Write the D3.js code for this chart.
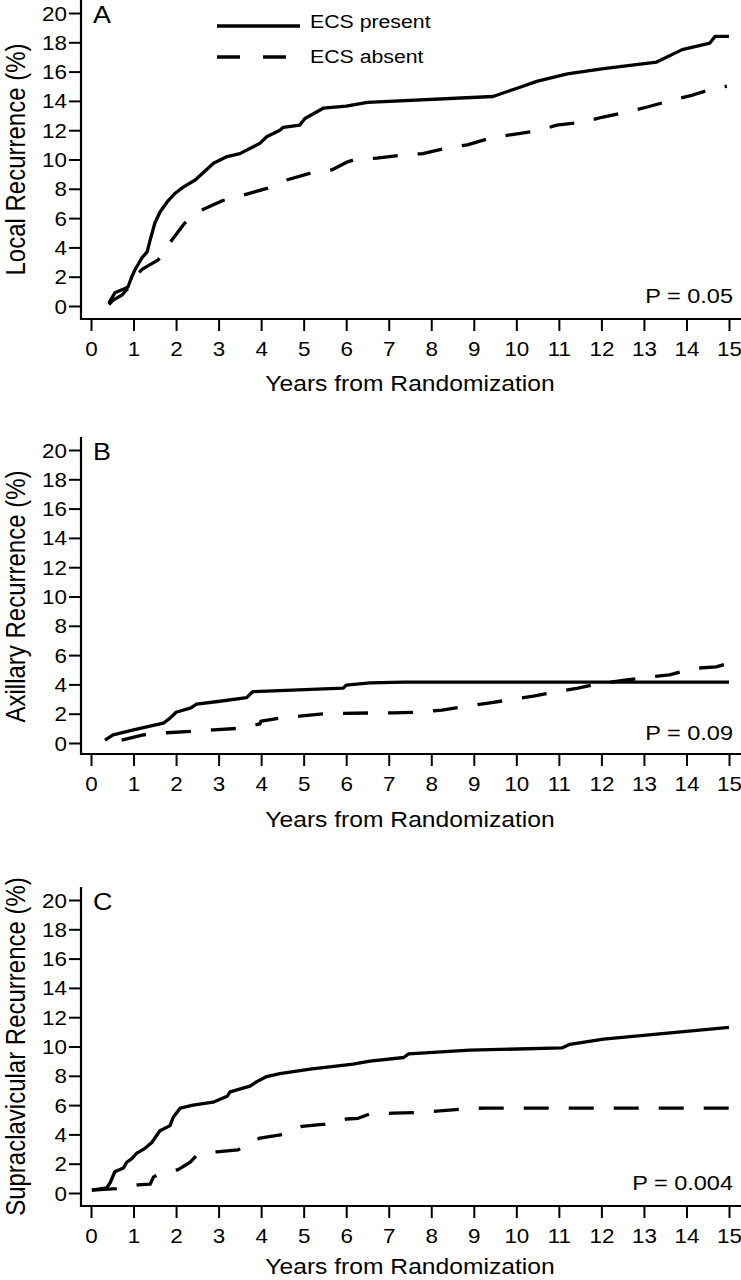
<!DOCTYPE html>
<html><head><meta charset="utf-8">
<script src="https://cdn.jsdelivr.net/npm/d3@7"></script>
<style>
body{margin:0;background:#fff}
svg{display:block}
text{font-family:"Liberation Sans",Arial,Helvetica,sans-serif;fill:#000}
</style>
</head><body>
<svg id="chart" width="741" height="1280"></svg>
<script>
// ---------- data ----------
const xTickValues = [0,1,2,3,4,5,6,7,8,9,10,11,12,13,14,15];
const yTickValues = [0,2,4,6,8,10,12,14,16,18,20];
const seriesNames = ["ECS present","ECS absent"];
const panelLetters = ["A","B","C"];
const yTitles = ["Local Recurrence (%)","Axillary Recurrence (%)","Supraclavicular Recurrence (%)"];
const pValues = ["P = 0.05","P = 0.09","P = 0.004"];
const xTitle = "Years from Randomization";

// Panel A – local recurrence
const localPresentT = [0.42,0.56,0.8,0.87,0.96,1.03,1.1,1.2,1.32,1.39,1.5,1.62,1.79,1.98,2.16,2.45,2.88,3.2,3.5,3.97,4.13,4.44,4.52,4.91,5.03,5.46,6.0,6.5,9.45,10.0,10.5,11.2,12.05,13.3,13.9,14.55,14.67,15.0];
const localPresentV = [0.2,0.9,1.2,1.3,2.0,2.45,2.8,3.3,3.7,4.5,5.65,6.4,7.1,7.7,8.1,8.6,9.75,10.2,10.4,11.1,11.55,12.0,12.2,12.35,12.8,13.5,13.65,13.9,14.3,14.85,15.35,15.85,16.2,16.65,17.5,17.95,18.4,18.4];
const localAbsentT = [0.42,0.52,0.73,0.87,1.0,1.1,1.2,1.58,1.75,1.86,2.2,2.4,2.6,3.1,3.62,4.16,4.6,5.2,5.67,6.0,6.2,6.72,7.3,7.8,8.4,8.85,9.43,9.9,10.5,10.95,11.55,12.04,12.6,13.1,13.66,14.15,14.7,14.95];
const localAbsentV = [0.1,0.4,0.75,1.2,1.9,2.2,2.5,3.15,3.8,4.35,5.65,6.2,6.55,7.2,7.6,8.05,8.6,9.1,9.3,9.8,10.0,10.1,10.3,10.4,10.8,11.0,11.5,11.7,11.95,12.35,12.55,12.9,13.25,13.6,14.05,14.4,14.9,15.0];

// Panel B – axillary recurrence
const axPresentT = [0.33,0.52,1.0,1.7,1.86,2.0,2.35,2.48,3.03,3.66,3.8,5.93,6.0,6.56,7.35,15];
const axPresentV = [0.2,0.55,0.9,1.35,1.7,2.1,2.4,2.65,2.85,3.1,3.5,3.75,3.95,4.1,4.15,4.15];
const axAbsentT = [0.72,1.23,1.78,2.37,2.88,3.46,3.97,4.0,4.44,4.96,5.5,6.56,7.1,7.74,8.25,8.8,9.3,9.85,10.4,10.95,11.45,12.05,12.6,13.07,13.6,14.2,14.7,15];
const axAbsentV = [0.2,0.55,0.7,0.8,0.9,1.0,1.3,1.5,1.7,1.85,2.0,2.05,2.05,2.1,2.25,2.5,2.7,2.95,3.2,3.5,3.75,4.1,4.3,4.5,4.65,5.1,5.2,5.45];

// Panel C – supraclavicular recurrence
const supPresentT = [0.02,0.37,0.45,0.56,0.76,0.84,0.96,1.07,1.27,1.43,1.62,1.86,1.93,2.1,2.4,2.87,3.2,3.27,3.74,3.9,4.13,4.44,5.15,6.16,6.56,7.35,7.47,8.9,11.07,11.26,12.05,15];
const supPresentV = [0.2,0.35,0.7,1.45,1.7,2.1,2.35,2.7,3.05,3.45,4.25,4.6,5.15,5.8,6.0,6.2,6.6,6.9,7.3,7.6,7.95,8.15,8.45,8.8,9.0,9.25,9.5,9.75,9.9,10.15,10.5,11.3];
const supAbsentT = [0.02,0.6,1.1,1.39,1.47,1.58,2.05,2.33,2.48,2.95,3.46,3.6,3.97,4.52,4.96,5.5,6.0,6.28,6.56,7.1,7.69,8.2,8.8,9.26,15];
const supAbsentV = [0.2,0.3,0.55,0.6,1.1,1.25,1.6,2.1,2.55,2.8,2.95,3.2,3.75,4.0,4.55,4.7,5.05,5.1,5.4,5.45,5.5,5.6,5.75,5.8,5.8];

const panelSeries = [
  [[localPresentT,localPresentV],[localAbsentT,localAbsentV]],
  [[axPresentT,axPresentV],[axAbsentT,axAbsentV]],
  [[supPresentT,supPresentV],[supAbsentT,supAbsentV]]
];

// ---------- layout ----------
const SX = 1.12;                 // horizontal stretch of the original figure
const layout = [
  {yTop:13,  yZero:306,  axisTop:0,   axisY:319, titleY:391},
  {yTop:450, yZero:743,  axisTop:437, axisY:754, titleY:827},
  {yTop:900, yZero:1193, axisTop:887, axisY:1206, titleY:1274}
];
const axisX = 81, xLeft = 91, xRight = 729;
const DASH = "25,20";

const svg = d3.select("#chart");
const x = d3.scaleLinear().domain([0,15]).range([xLeft,xRight]);

function label(g, tx, ty, str, size, anchor, extra){
  return g.append("text")
    .attr("transform", `translate(${tx},${ty}) scale(${SX},1)` + (extra||""))
    .attr("text-anchor", anchor)
    .style("font-size", size+"px")
    .text(str);
}

layout.forEach((L,i)=>{
  const g = svg.append("g");
  const y = d3.scaleLinear().domain([0,20]).range([L.yZero,L.yTop]);

  // axis lines
  g.append("line").attr("x1",axisX).attr("x2",axisX).attr("y1",L.axisTop).attr("y2",L.axisY+1)
    .attr("stroke","#000").attr("stroke-width",2.2);
  g.append("line").attr("x1",axisX-1).attr("x2",741).attr("y1",L.axisY).attr("y2",L.axisY)
    .attr("stroke","#000").attr("stroke-width",2.2);

  // y axis
  const ya = g.append("g").attr("transform",`translate(${axisX},0)`)
    .call(d3.axisLeft(y).tickValues(yTickValues).tickSize(12).tickSizeOuter(0));
  ya.select(".domain").remove();
  ya.selectAll(".tick line").attr("stroke-width",2);
  ya.selectAll(".tick text").attr("x",null).attr("dy","0.35em")
    .attr("transform",`translate(-14,0) scale(${SX},1)`)
    .style("font-size","20px").attr("fill","#000");
  ya.attr("font-family",null).attr("font-size",null);

  // x axis
  const xa = g.append("g").attr("transform",`translate(0,${L.axisY})`)
    .call(d3.axisBottom(x).tickValues(xTickValues).tickSize(12).tickSizeOuter(0));
  xa.select(".domain").remove();
  xa.selectAll(".tick line").attr("stroke-width",2);
  xa.selectAll(".tick text").attr("y",null).attr("dy",null)
    .attr("transform",`translate(0,37) scale(${SX},1)`)
    .style("font-size","20px").attr("fill","#000");
  xa.attr("font-family",null).attr("font-size",null);

  // titles
  label(g, (xLeft+xRight)/2, L.titleY, xTitle, 22, "middle");
  g.append("text")
    .attr("transform",`translate(25,${(L.yTop+L.yZero)/2}) scale(${SX},1) rotate(-90)`)
    .attr("text-anchor","middle").style("font-size","24px").text(yTitles[i]);

  // panel letter
  label(g, 93, L.yTop+10, panelLetters[i], 24, "start");

  // p value
  label(g, 733, L.yZero-3, pValues[i], 21, "end");

  // curves
  const line = d3.line().x(d=>x(d[0])).y(d=>y(d[1]));
  panelSeries[i].forEach((s,k)=>{
    const pts = s[0].map((t,j)=>[t,s[1][j]]);
    g.append("path").datum(pts).attr("d",line)
      .attr("fill","none").attr("stroke","#000").attr("stroke-width",3.3)
      .attr("stroke-linejoin","round")
      .attr("stroke-dasharray", k===1 ? DASH : null);
  });
});

// legend (panel A)
const lg = svg.append("g");
const legendRows = [{ly:26, ty:28},{ly:57, ty:63}];
seriesNames.forEach((n,k)=>{
  lg.append("line").attr("x1",217).attr("x2",k===0?300:287)
    .attr("y1",legendRows[k].ly).attr("y2",legendRows[k].ly)
    .attr("stroke","#000").attr("stroke-width",3.3)
    .attr("stroke-dasharray", k===1 ? "23,23" : null);
  label(lg, 310, legendRows[k].ty, n, 19, "start");
});
</script>
</body></html>
